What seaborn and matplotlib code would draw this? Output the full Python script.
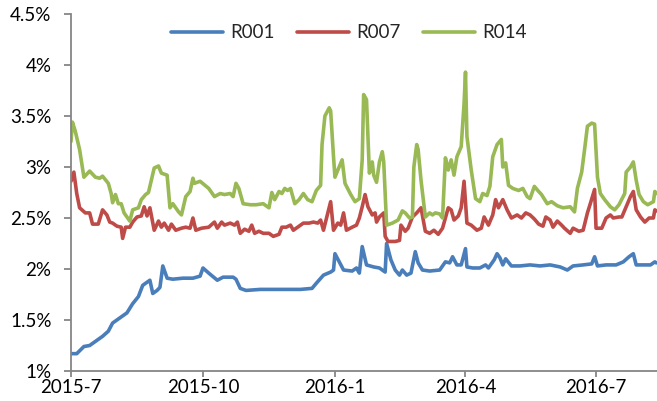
import matplotlib
matplotlib.use("Agg")
import matplotlib.pyplot as plt
from matplotlib.ticker import FuncFormatter
import pandas as pd
import seaborn as sns

# Interbank repo fixing rates (%), Jul 2015 - Aug 2016
r001_dates = [
    "2015-07-01", "2015-07-05", "2015-07-10", "2015-07-14", "2015-07-19", "2015-07-23",
    "2015-07-27", "2015-07-30", "2015-08-04", "2015-08-09", "2015-08-13", "2015-08-17",
    "2015-08-20", "2015-08-25", "2015-08-27", "2015-08-30", "2015-09-01", "2015-09-03",
    "2015-09-06", "2015-09-10", "2015-09-17", "2015-09-24", "2015-09-29", "2015-10-01",
    "2015-10-05", "2015-10-11", "2015-10-15", "2015-10-22", "2015-10-24", "2015-10-27",
    "2015-10-31", "2015-11-10", "2015-11-19", "2015-11-28", "2015-12-08", "2015-12-16",
    "2015-12-19", "2015-12-24", "2015-12-29", "2015-12-31", "2016-01-01", "2016-01-04",
    "2016-01-07", "2016-01-13", "2016-01-16", "2016-01-18", "2016-01-20", "2016-01-23",
    "2016-01-28", "2016-02-01", "2016-02-05", "2016-02-06", "2016-02-09", "2016-02-12",
    "2016-02-15", "2016-02-17", "2016-02-20", "2016-02-23", "2016-02-26", "2016-02-28",
    "2016-03-02", "2016-03-07", "2016-03-14", "2016-03-18", "2016-03-21", "2016-03-23",
    "2016-03-26", "2016-03-29", "2016-04-01", "2016-04-02", "2016-04-06", "2016-04-11",
    "2016-04-15", "2016-04-17", "2016-04-21", "2016-04-23", "2016-04-25", "2016-04-27",
    "2016-04-29", "2016-05-03", "2016-05-09", "2016-05-16", "2016-05-23", "2016-05-30",
    "2016-06-06", "2016-06-11", "2016-06-15", "2016-06-22", "2016-06-28", "2016-06-30",
    "2016-07-02", "2016-07-08", "2016-07-15", "2016-07-20", "2016-07-24", "2016-07-27",
    "2016-07-29", "2016-08-03", "2016-08-08", "2016-08-11", "2016-08-12",
]
r001_rates = [
    1.17, 1.17, 1.24, 1.25, 1.30, 1.34,
    1.39, 1.47, 1.52, 1.57, 1.66, 1.73,
    1.84, 1.89, 1.76, 1.79, 1.82, 2.03,
    1.91, 1.90, 1.91, 1.91, 1.93, 2.01,
    1.96, 1.89, 1.92, 1.92, 1.90, 1.81,
    1.79, 1.80, 1.80, 1.80, 1.80, 1.81,
    1.86, 1.94, 1.97, 1.99, 2.15, 2.07,
    1.99, 1.98, 2.01, 1.96, 2.22, 2.04,
    2.02, 2.01, 1.97, 2.25, 2.09, 1.99,
    1.94, 1.99, 1.94, 1.96, 2.17, 2.06,
    1.99, 1.98, 1.99, 2.07, 2.06, 2.12,
    2.04, 2.04, 2.20, 2.02, 2.01, 2.01,
    2.04, 2.01, 2.09, 2.15, 2.11, 2.04,
    2.10, 2.03, 2.03, 2.04, 2.03, 2.04,
    2.02, 1.99, 2.03, 2.04, 2.05, 2.12,
    2.03, 2.04, 2.04, 2.07, 2.12, 2.15,
    2.04, 2.04, 2.04, 2.07, 2.06,
]

r007_dates = [
    "2015-07-01", "2015-07-03", "2015-07-05", "2015-07-07", "2015-07-11", "2015-07-14",
    "2015-07-16", "2015-07-20", "2015-07-23", "2015-07-26", "2015-07-28", "2015-07-30",
    "2015-08-02", "2015-08-05", "2015-08-06", "2015-08-08", "2015-08-11", "2015-08-13",
    "2015-08-16", "2015-08-19", "2015-08-21", "2015-08-23", "2015-08-25", "2015-08-28",
    "2015-08-31", "2015-09-02", "2015-09-04", "2015-09-07", "2015-09-09", "2015-09-12",
    "2015-09-16", "2015-09-19", "2015-09-22", "2015-09-24", "2015-09-26", "2015-09-30",
    "2015-10-05", "2015-10-09", "2015-10-11", "2015-10-14", "2015-10-16", "2015-10-20",
    "2015-10-23", "2015-10-25", "2015-10-27", "2015-10-30", "2015-11-02", "2015-11-04",
    "2015-11-06", "2015-11-09", "2015-11-12", "2015-11-16", "2015-11-19", "2015-11-23",
    "2015-11-25", "2015-11-28", "2015-12-01", "2015-12-03", "2015-12-06", "2015-12-10",
    "2015-12-14", "2015-12-17", "2015-12-20", "2015-12-22", "2015-12-24", "2015-12-27",
    "2015-12-29", "2015-12-31", "2016-01-03", "2016-01-05", "2016-01-07", "2016-01-09",
    "2016-01-13", "2016-01-16", "2016-01-18", "2016-01-20", "2016-01-22", "2016-01-24",
    "2016-01-27", "2016-01-29", "2016-01-30", "2016-02-01", "2016-02-04", "2016-02-05",
    "2016-02-07", "2016-02-12", "2016-02-15", "2016-02-16", "2016-02-19", "2016-02-21",
    "2016-02-24", "2016-02-27", "2016-03-01", "2016-03-04", "2016-03-07", "2016-03-10",
    "2016-03-13", "2016-03-16", "2016-03-20", "2016-03-22", "2016-03-24", "2016-03-27",
    "2016-03-29", "2016-03-31", "2016-04-02", "2016-04-05", "2016-04-09", "2016-04-12",
    "2016-04-14", "2016-04-17", "2016-04-20", "2016-04-22", "2016-04-24", "2016-04-27",
    "2016-04-30", "2016-05-03", "2016-05-07", "2016-05-10", "2016-05-13", "2016-05-16",
    "2016-05-19", "2016-05-22", "2016-05-25", "2016-05-27", "2016-05-30", "2016-06-01",
    "2016-06-04", "2016-06-07", "2016-06-09", "2016-06-13", "2016-06-15", "2016-06-19",
    "2016-06-22", "2016-06-25", "2016-06-27", "2016-06-30", "2016-07-01", "2016-07-05",
    "2016-07-08", "2016-07-11", "2016-07-13", "2016-07-17", "2016-07-19", "2016-07-22",
    "2016-07-25", "2016-07-27", "2016-07-29", "2016-08-01", "2016-08-04", "2016-08-07",
    "2016-08-10", "2016-08-11", "2016-08-12",
]
r007_rates = [
    2.86, 2.95, 2.74, 2.60, 2.55, 2.55,
    2.44, 2.44, 2.58, 2.53, 2.46, 2.45,
    2.42, 2.41, 2.30, 2.41, 2.41, 2.46,
    2.51, 2.52, 2.61, 2.52, 2.60, 2.38,
    2.47, 2.41, 2.45, 2.38, 2.44, 2.38,
    2.40, 2.41, 2.40, 2.50, 2.38, 2.40,
    2.41, 2.46, 2.40, 2.46, 2.43, 2.45,
    2.43, 2.46, 2.35, 2.39, 2.37, 2.43,
    2.35, 2.37, 2.35, 2.35, 2.32, 2.34,
    2.41, 2.41, 2.43, 2.38, 2.41, 2.45,
    2.45, 2.46, 2.45, 2.48, 2.38, 2.55,
    2.66, 2.38, 2.45, 2.43, 2.55, 2.38,
    2.41, 2.43, 2.50, 2.61, 2.73, 2.61,
    2.53, 2.55, 2.46, 2.51, 2.55, 2.32,
    2.27, 2.27, 2.28, 2.43, 2.37, 2.40,
    2.51, 2.55, 2.60, 2.37, 2.35, 2.38,
    2.34, 2.40, 2.60, 2.58, 2.48, 2.52,
    2.60, 2.86, 2.45, 2.43, 2.38, 2.40,
    2.51, 2.43, 2.53, 2.68, 2.60, 2.68,
    2.58, 2.50, 2.53, 2.50, 2.55, 2.53,
    2.49, 2.44, 2.42, 2.51, 2.48, 2.41,
    2.47, 2.43, 2.40, 2.35, 2.40, 2.37,
    2.38, 2.55, 2.64, 2.78, 2.40, 2.40,
    2.50, 2.53, 2.50, 2.51, 2.51, 2.61,
    2.71, 2.76, 2.58, 2.51, 2.46, 2.50,
    2.50, 2.58, 2.57,
]

r014_dates = [
    "2015-07-01", "2015-07-02", "2015-07-04", "2015-07-07", "2015-07-10", "2015-07-14",
    "2015-07-18", "2015-07-21", "2015-07-23", "2015-07-27", "2015-07-29", "2015-07-30",
    "2015-08-01", "2015-08-03", "2015-08-05", "2015-08-07", "2015-08-11", "2015-08-13",
    "2015-08-17", "2015-08-19", "2015-08-22", "2015-08-24", "2015-08-26", "2015-08-28",
    "2015-08-31", "2015-09-02", "2015-09-06", "2015-09-08", "2015-09-10", "2015-09-14",
    "2015-09-16", "2015-09-19", "2015-09-22", "2015-09-24", "2015-09-25", "2015-09-29",
    "2015-10-05", "2015-10-09", "2015-10-13", "2015-10-16", "2015-10-20", "2015-10-22",
    "2015-10-24", "2015-10-26", "2015-10-29", "2015-11-03", "2015-11-07", "2015-11-12",
    "2015-11-16", "2015-11-18", "2015-11-20", "2015-11-23", "2015-11-25", "2015-11-27",
    "2015-11-29", "2015-12-01", "2015-12-04", "2015-12-07", "2015-12-10", "2015-12-13",
    "2015-12-16", "2015-12-19", "2015-12-22", "2015-12-23", "2015-12-25", "2015-12-28",
    "2015-12-29", "2015-12-31", "2016-01-01", "2016-01-03", "2016-01-06", "2016-01-08",
    "2016-01-12", "2016-01-15", "2016-01-18", "2016-01-20", "2016-01-21", "2016-01-23",
    "2016-01-25", "2016-01-27", "2016-01-28", "2016-01-30", "2016-02-01", "2016-02-03",
    "2016-02-04", "2016-02-06", "2016-02-10", "2016-02-14", "2016-02-17", "2016-02-19",
    "2016-02-22", "2016-02-24", "2016-02-25", "2016-02-27", "2016-02-28", "2016-03-01",
    "2016-03-04", "2016-03-07", "2016-03-09", "2016-03-11", "2016-03-14", "2016-03-16",
    "2016-03-18", "2016-03-20", "2016-03-22", "2016-03-24", "2016-03-26", "2016-03-29",
    "2016-03-31", "2016-04-01", "2016-04-02", "2016-04-05", "2016-04-08", "2016-04-11",
    "2016-04-13", "2016-04-16", "2016-04-18", "2016-04-20", "2016-04-23", "2016-04-26",
    "2016-04-27", "2016-04-29", "2016-05-01", "2016-05-04", "2016-05-08", "2016-05-11",
    "2016-05-14", "2016-05-16", "2016-05-19", "2016-05-22", "2016-05-24", "2016-05-28",
    "2016-05-31", "2016-06-04", "2016-06-08", "2016-06-13", "2016-06-16", "2016-06-18",
    "2016-06-21", "2016-06-23", "2016-06-25", "2016-06-28", "2016-06-30", "2016-07-02",
    "2016-07-04", "2016-07-07", "2016-07-11", "2016-07-14", "2016-07-17", "2016-07-21",
    "2016-07-22", "2016-07-25", "2016-07-27", "2016-07-29", "2016-07-31", "2016-08-03",
    "2016-08-06", "2016-08-10", "2016-08-11", "2016-08-12",
]
r014_rates = [
    3.25, 3.44, 3.35, 3.17, 2.90, 2.96,
    2.90, 2.89, 2.91, 2.84, 2.74, 2.65,
    2.73, 2.64, 2.64, 2.55, 2.47, 2.58,
    2.60, 2.68, 2.73, 2.75, 2.87, 2.99,
    3.01, 2.94, 2.92, 2.60, 2.64, 2.56,
    2.53, 2.71, 2.76, 2.89, 2.84, 2.86,
    2.79, 2.71, 2.74, 2.73, 2.74, 2.71,
    2.84, 2.79, 2.64, 2.63, 2.63, 2.64,
    2.60, 2.75, 2.68, 2.76, 2.74, 2.79,
    2.77, 2.79, 2.64, 2.68, 2.74, 2.68,
    2.66, 2.77, 2.82, 3.22, 3.50, 3.58,
    3.55, 3.10, 2.90, 2.97, 3.07, 2.84,
    2.73, 2.66, 2.69, 3.07, 3.71, 3.66,
    2.94, 3.05, 2.92, 2.85, 3.05, 3.15,
    3.05, 2.43, 2.45, 2.48, 2.57, 2.55,
    2.50, 2.51, 3.00, 3.22, 3.17, 2.87,
    2.51, 2.55, 2.53, 2.55, 2.54, 2.50,
    3.09, 2.97, 3.07, 2.92, 3.10, 3.20,
    3.62, 3.93, 3.30, 2.97, 2.69, 2.66,
    2.74, 2.72, 2.81, 3.10, 3.22, 3.27,
    3.00, 3.04, 2.82, 2.79, 2.77, 2.79,
    2.71, 2.69, 2.81, 2.76, 2.73, 2.64,
    2.66, 2.62, 2.60, 2.61, 2.56, 2.79,
    2.95, 3.17, 3.40, 3.43, 3.42, 2.90,
    2.74, 2.68, 2.61, 2.58, 2.63, 2.74,
    2.95, 3.00, 3.05, 2.87, 2.73, 2.66,
    2.63, 2.66, 2.76, 2.74,
]

series_names = ["R001", "R007", "R014"]
series_colors = ["#4A7EBB", "#BE4B48", "#98B954"]

tick_dates = ["2015-07-01", "2015-10-01", "2016-01-01", "2016-04-01", "2016-07-01"]
tick_labels = ["2015-7", "2015-10", "2016-1", "2016-4", "2016-7"]
y_ticks = [1.0, 1.5, 2.0, 2.5, 3.0, 3.5, 4.0, 4.5]

frames = []
for name, d, v in zip(series_names,
                      [r001_dates, r007_dates, r014_dates],
                      [r001_rates, r007_rates, r014_rates]):
    frames.append(pd.DataFrame({"date": pd.to_datetime(d), "rate": v, "series": name}))
df = pd.concat(frames, ignore_index=True)

sns.set_theme(style="white")
plt.rcParams["font.family"] = ["Lato", "DejaVu Sans"]
plt.rcParams["font.size"] = 13.5

fig = plt.figure(figsize=(6.57, 4.01), dpi=100)
ax = fig.add_axes([71 / 657, 30 / 401, 586 / 657, 357 / 401])

sns.lineplot(data=df, x="date", y="rate", hue="series", hue_order=series_names,
             palette=series_colors, linewidth=2.6, estimator=None, ax=ax,
             legend=False)

ax.set_xlim(pd.Timestamp("2015-07-01"), pd.Timestamp("2015-07-01") + pd.Timedelta(days=408.5))
ax.set_ylim(1.0, 4.5)
ax.set_yticks(y_ticks)
ax.yaxis.set_major_formatter(FuncFormatter(lambda v, _: f"{v:g}%"))
ax.set_xticks(pd.to_datetime(tick_dates))
ax.set_xticklabels(tick_labels)
ax.set_xlabel("")
ax.set_ylabel("")

spine_color = "#868686"
for side in ("top", "right"):
    ax.spines[side].set_visible(False)
for side in ("left", "bottom"):
    ax.spines[side].set_color(spine_color)
    ax.spines[side].set_linewidth(1.3)
ax.tick_params(axis="y", direction="out", length=5, width=1.3, color=spine_color,
               pad=9, labelsize=13.5, labelcolor="#000000", left=True)
ax.tick_params(axis="x", direction="out", length=4, width=1.3, color=spine_color,
               pad=2, labelsize=13.5, labelcolor="#000000", bottom=True)

handles = [plt.Line2D([], [], color=c, linewidth=2.6) for c in series_colors]
fig.legend(handles, series_names, loc="center", bbox_to_anchor=(348.5 / 657, 1 - 33 / 401),
           ncol=3, frameon=False, handlelength=2.8, handletextpad=0.35,
           columnspacing=1.2, fontsize=13.5, borderaxespad=0)

fig.savefig("out.png", dpi=100)
